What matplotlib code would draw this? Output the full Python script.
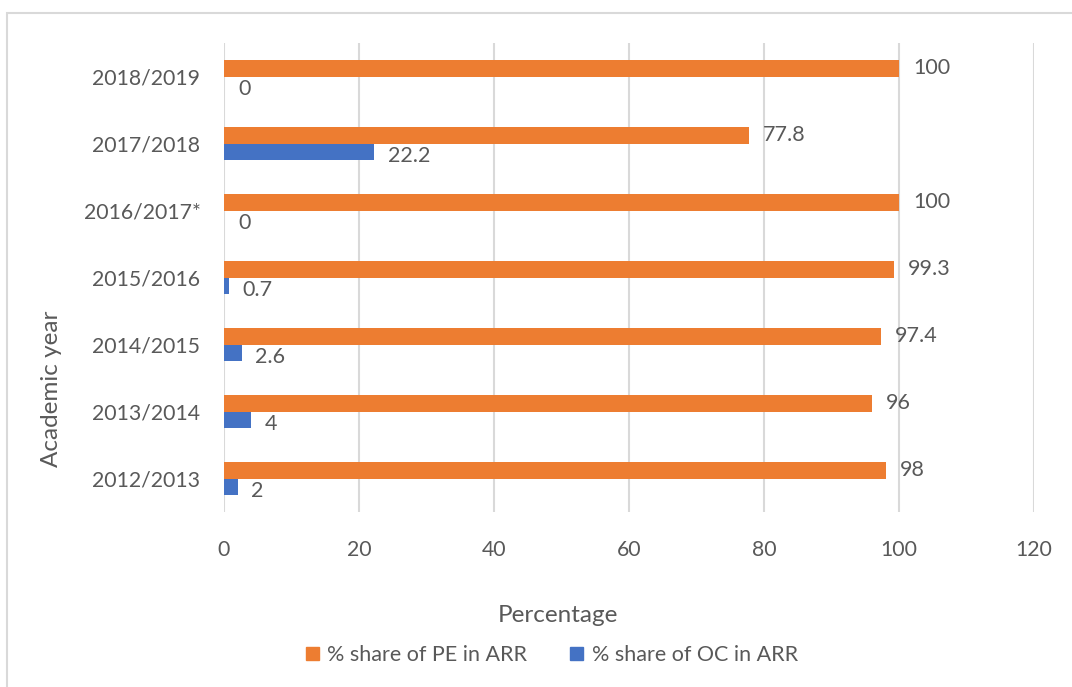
import matplotlib
matplotlib.use("Agg")
import matplotlib.pyplot as plt
from matplotlib.patches import Rectangle, Patch
import numpy as np

years = ["2012/2013", "2013/2014", "2014/2015", "2015/2016",
         "2016/2017*", "2017/2018", "2018/2019"]
pe_share = [98, 96, 97.4, 99.3, 100, 77.8, 100]
oc_share = [2, 4, 2.6, 0.7, 0, 22.2, 0]
pe_labels = ["98", "96", "97.4", "99.3", "100", "77.8", "100"]
oc_labels = ["2", "4", "2.6", "0.7", "0", "22.2", "0"]
x_ticks = [0, 20, 40, 60, 80, 100, 120]

ORANGE = "#ED7D31"
BLUE = "#4472C4"
TEXT = "#595959"
GRID = "#D9D9D9"

plt.rcParams["font.family"] = ["Lato", "DejaVu Sans"]

W, H = 1072, 687
fig = plt.figure(figsize=(W / 100, H / 100), dpi=100)

# chart frame (left and top edges visible)
fig.patches.append(Rectangle((7 / W, -0.1), 1.2, 1 - 13 / H + 0.1,
                             transform=fig.transFigure, fill=False,
                             edgecolor="#D9D9D9", linewidth=1.5))

ax = fig.add_axes([224 / W, 1 - 512 / H, (1034 - 224) / W, (512 - 43) / H])

y = np.arange(len(years))
h = 0.25
ax.barh(y + h / 2, pe_share, height=h, color=ORANGE, zorder=3)
ax.barh(y - h / 2, oc_share, height=h, color=BLUE, zorder=3)

for yi, v, s in zip(y, pe_share, pe_labels):
    ax.annotate(s, (v, yi + h / 2), xytext=(10, 0), textcoords="offset points",
                va="center", ha="left", fontsize=15.5, color=TEXT)
for yi, v, s in zip(y, oc_share, oc_labels):
    ax.annotate(s, (v, yi - h / 2), xytext=(10, -3), textcoords="offset points",
                va="center", ha="left", fontsize=15.5, color=TEXT)

ax.set_xlim(0, 120)
ax.set_ylim(-0.5, len(years) - 0.5)
ax.set_xticks(x_ticks)
ax.set_yticks(y)
ax.set_yticklabels(years)
ax.tick_params(axis="both", length=0, labelsize=15.3, colors=TEXT)
ax.tick_params(axis="y", pad=17)
ax.tick_params(axis="x", pad=20)
ax.grid(axis="x", color=GRID, linewidth=1.5, zorder=0)
for sp in ax.spines.values():
    sp.set_visible(False)

fig.text(558 / W, 1 - 615 / H, "Percentage", ha="center", va="center",
         fontsize=17.5, color=TEXT)
fig.text(52 / W, 1 - 389 / H, "Academic year", ha="center", va="center",
         rotation=90, fontsize=17.5, color=TEXT)

handles = [Patch(color=ORANGE, label="% share of PE in ARR"),
           Patch(color=BLUE, label="% share of OC in ARR")]
fig.legend(handles=handles, loc="center", bbox_to_anchor=(552 / W, 1 - 655 / H),
           ncol=2, frameon=False, fontsize=15.5, labelcolor=TEXT,
           handlelength=0.6, handleheight=0.6, handletextpad=0.4,
           columnspacing=2.0)

fig.savefig("out.png", dpi=100, facecolor="white")
